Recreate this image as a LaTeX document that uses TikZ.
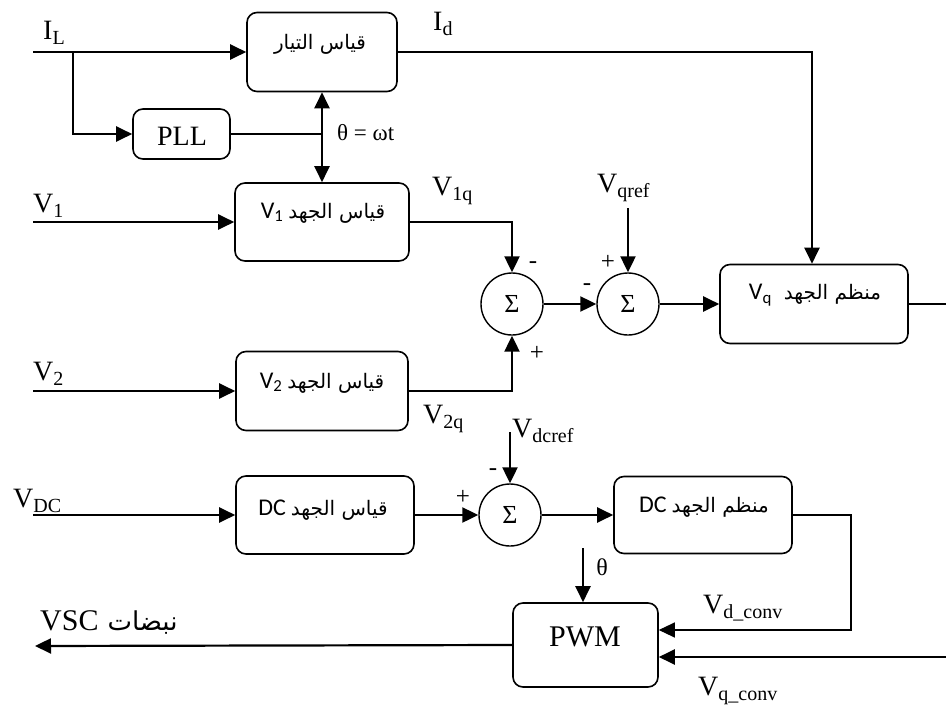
\documentclass[tikz,border=0pt]{standalone}
\usepackage{fontspec}
\setmainfont{Liberation Serif}
\newfontfamily\arabicfont[Script=Arabic]{DejaVu Sans}
\newfontfamily\latsans{Carlito}
\TeXXeTstate=1
\usetikzlibrary{arrows.meta}
\newcommand{\lab}[2]{{\fontsize{28}{28}\selectfont #1\raisebox{-5pt}{\fontsize{20}{20}\selectfont #2}}}
\newcommand{\ar}[1]{{\arabicfont\beginR #1\endR}}
\newcommand{\ls}[1]{{\latsans\fontsize{24}{24}\selectfont #1}}
\begin{document}
\begin{tikzpicture}[x=1pt,y=-1pt,
  blk/.style={draw, line width=1.6pt, rounded corners=10pt, inner sep=0pt},
  sum/.style={draw, circle, line width=1.4pt, minimum size=62pt, inner sep=0pt, font=\fontsize{26}{26}\selectfont},
  wire/.style={line width=2.2pt},
  thinw/.style={line width=1.2pt},
  arr/.style={-{Triangle[length=16pt,width=15pt]}},
  dbl/.style={{Triangle[length=16pt,width=15pt]}-{Triangle[length=16pt,width=15pt]}},
  boxtxt/.style={inner sep=0pt, font=\fontsize{20}{20}\selectfont},
  lbl/.style={inner sep=0pt, anchor=base west},
  sgn/.style={inner sep=0pt, font=\fontsize{25}{25}\selectfont}]
\useasboundingbox (0,0) rectangle (946,707);

% blocks
\node[blk, minimum width=150pt, minimum height=79pt] (cur) at (322,52) {};
\node[blk, minimum width=97pt, minimum height=50pt] (pll) at (181.5,134) {};
\node[blk, minimum width=174pt, minimum height=78pt] (v1box) at (322,222) {};
\node[blk, minimum width=172pt, minimum height=79pt] (v2box) at (322,391) {};
\node[blk, minimum width=178pt, minimum height=78pt] (dcm) at (325,515) {};
\node[blk, minimum width=188pt, minimum height=79pt] (vqreg) at (814,304) {};
\node[blk, minimum width=178pt, minimum height=77pt] (dcreg) at (703,515) {};
\node[blk, minimum width=145pt, minimum height=84pt] (pwm) at (585.5,645) {};

\node[sum] (s1) at (512,304) {Σ};
\node[sum] (s2) at (628,304) {Σ};
\node[sum] (s3) at (510,515) {Σ};

% block texts
\node[boxtxt] (curt) at (320,44) {\ar{قياس التيار}};
\node[inner sep=0pt, font=\fontsize{28}{28}\selectfont] (pllt) at (182,136) {PLL};
\node[boxtxt] (v1t) at (323,213) {\ls{V\textsubscript{1}} \ar{قياس الجهد}};
\node[boxtxt] (v2t) at (322,383) {\ls{V\textsubscript{2}} \ar{قياس الجهد}};
\node[boxtxt] (dcmt) at (323,510) {\ls{DC} \ar{قياس الجهد}};
\node[boxtxt] (vqt) at (815,295) {\ls{V\textsubscript{q}}\hspace{12pt}\ar{منظم الجهد}};
\node[boxtxt] (dcrt) at (704,507) {\ls{DC} \ar{منظم الجهد}};
\node[inner sep=0pt, font=\fontsize{30}{30}\selectfont] (pwmt) at (585,637) {PWM};

% coordinates
\coordinate (ILin) at (33,52);
\coordinate (br) at (73,52);
\coordinate (pj) at (322,134);
\coordinate (idc) at (812,52);
\coordinate (V1in) at (33,222);
\coordinate (V2in) at (33,391);
\coordinate (vqrefc) at (628,208);
\coordinate (vqout) at (946,304);
\coordinate (VDCin) at (33,515);
\coordinate (vdcrefc) at (510,432);
\coordinate (dk1) at (851,515);
\coordinate (dk2) at (851,630);
\coordinate (vqconvin) at (946,657);
\coordinate (thc) at (583,548);
\coordinate (vscout) at (35,646);

% connectors
\draw[wire,arr] (ILin) -- (cur.west);
\draw[wire,arr] (br) |- (pll.west);
\draw[thinw] (pll.east) -- (pj);
\draw[wire,dbl] (cur.south) -- (v1box.north);
\draw[wire,arr] (cur.east) -- (idc) -- (idc |- vqreg.north);
\draw[wire,arr] (V1in) -- (v1box.west);
\draw[wire,arr] (v1box.east) -| (s1.north);
\draw[wire,arr] (V2in) -- (v2box.west);
\draw[wire,arr] (v2box.east) -| (s1.south);
\draw[wire,arr] (s1.east) -- (s2.west);
\draw[wire,arr] (vqrefc) -- (s2.north);
\draw[wire,arr] (s2.east) -- (vqreg.west);
\draw[thinw] (vqreg.east) -- (vqout);
\draw[wire,arr] (VDCin) -- (dcm.west);
\draw[wire,arr] (dcm.east) -- (s3.west);
\draw[wire,arr] (vdcrefc) -- (s3.north);
\draw[wire,arr] (s3.east) -- (dcreg.west);
\draw[thinw,arr] (dcreg.east) -- (dk1) -- (dk2) -- (dk2 -| pwm.east);
\draw[wire,arr] (vqconvin) -- (vqconvin -| pwm.east);
\draw[wire,arr] (thc) -- (thc |- pwm.north);
\draw[wire,arr] (pwm.west) -- (vscout);

% labels
\node[lbl] (lIL) at (43,39) {\lab{I}{L}};
\node[lbl] (lId) at (433,30) {\lab{I}{d}};
\node[lbl, font=\fontsize{23}{23}\selectfont] (ltheta) at (337,140) {θ = ωt};
\node[lbl] (lV1) at (33,212) {\lab{V}{1}};
\node[lbl] (lV1q) at (432,195) {\lab{V}{1q}};
\node[lbl] (lVqref) at (597,192) {\lab{V}{qref}};
\node[lbl] (lV2) at (33,380) {\lab{V}{2}};
\node[lbl] (lV2q) at (423,423) {\lab{V}{2q}};
\node[lbl] (lVdcref) at (512,437) {\lab{V}{dcref}};
\node[lbl] (lVDC) at (13,507) {\lab{V}{DC}};
\node[lbl] (lVdconv) at (703,613) {\lab{V}{d\_conv}};
\node[lbl] (lVqconv) at (698,695) {\lab{V}{q\_conv}};
\node[sgn] (p3) at (463,497) {+};
\node[sgn] (m3) at (493,472) {-};
\node[sgn] (m1) at (533,265) {-};
\node[sgn] (p1) at (537,353) {+};
\node[sgn] (m2) at (587,287) {-};
\node[sgn] (p2) at (608,262) {+};
\node[inner sep=0pt, font=\fontsize{24}{24}\selectfont] (th2) at (602,567) {θ};
\node[lbl] (lvsc) at (40,630) {{\fontsize{30}{30}\selectfont VSC}\hspace{9pt}{\fontsize{26}{26}\selectfont\ar{نبضات}}};
\end{tikzpicture}
\end{document}
